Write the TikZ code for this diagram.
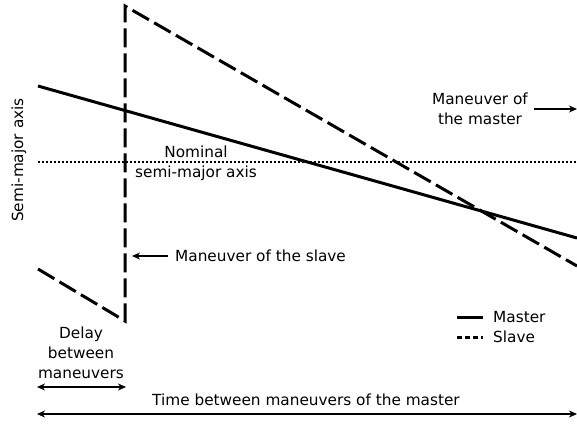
\documentclass[tikz,border=0pt]{standalone}
\usepackage{fontspec}
\setmainfont{DejaVu Sans}
\usetikzlibrary{arrows.meta, positioning}

\begin{document}
\begin{tikzpicture}[
    x=1pt, y=-1pt,
    % Line styles
    master/.style={line width=3pt},
    slave/.style={line width=3pt, dash pattern=on 19pt off 6pt},
    slavekey/.style={line width=3pt, dash pattern=on 5pt off 3pt},
    nominal/.style={line width=2pt, dash pattern=on 2pt off 2pt},
    span/.style={line width=1.1pt, {Stealth[length=8pt, width=7pt, inset=2.5pt]}-{Stealth[length=8pt, width=7pt, inset=2.5pt]}},
    pointer/.style={line width=1.1pt, -{Stealth[length=8pt, width=7pt, inset=2.5pt]}},
    % Text style
    lbl/.style={font=\fontsize{15.3}{20}\selectfont, inner sep=0pt, align=center},
]
\useasboundingbox (0,0) rectangle (577,423);

% Orbit end points
\coordinate (m-start) at (38,86);
\coordinate (m-end) at (577,238);
\coordinate (s-start) at (38,269);
\coordinate (s-low) at (125,321);
\coordinate (s-high) at (125,6);
\coordinate (s-end) at (577,266);
\coordinate (n-start) at (38,162);
\coordinate (n-end) at (577,162);

% Nominal, master and slave
\draw[nominal] (n-start) -- (n-end);
\draw[master] (m-start) -- (m-end);
\draw[slave] (s-start) -- (s-low) -- (s-high) -- (s-end);

% Labels
\node[lbl, rotate=90] (axis) at (19,160) {Semi-major axis};
\node[lbl] (nominal) at (196,163) {Nominal\\semi-major axis};
\node[lbl] (mman) at (480,109) {Maneuver of\\the master};
\node[lbl, anchor=west] (sman) at (175,256) {Maneuver of the slave};

% Maneuver pointers
\draw[pointer] ([xshift=6pt]mman.east) -- (m-end |- mman.east);
\draw[pointer] ([xshift=-7pt]sman.west) -- ([xshift=7pt]s-low |- sman.west);

% Legend
\node[lbl, anchor=west] (key-master) at (493,317) {Master};
\node[lbl, anchor=west] (key-slave) at (493,337) {Slave};
\draw[master] ([xshift=-36pt]key-master.west) -- ([xshift=-10pt]key-master.west);
\draw[slavekey] ([xshift=-36pt]key-slave.west) -- ([xshift=-10pt]key-slave.west);

% Time spans
\node[lbl] (delay) at (81,353) {Delay\\between\\maneuvers};
\node[lbl] (period) at (306,400) {Time between maneuvers of the master};
\coordinate (d-left) at (37,387);
\coordinate (d-right) at (126,387);
\coordinate (t-left) at (37,414);
\coordinate (t-right) at (577,414);
\draw[span] (d-left) -- (d-right);
\draw[span] (t-left) -- (t-right);

\end{tikzpicture}
\end{document}
